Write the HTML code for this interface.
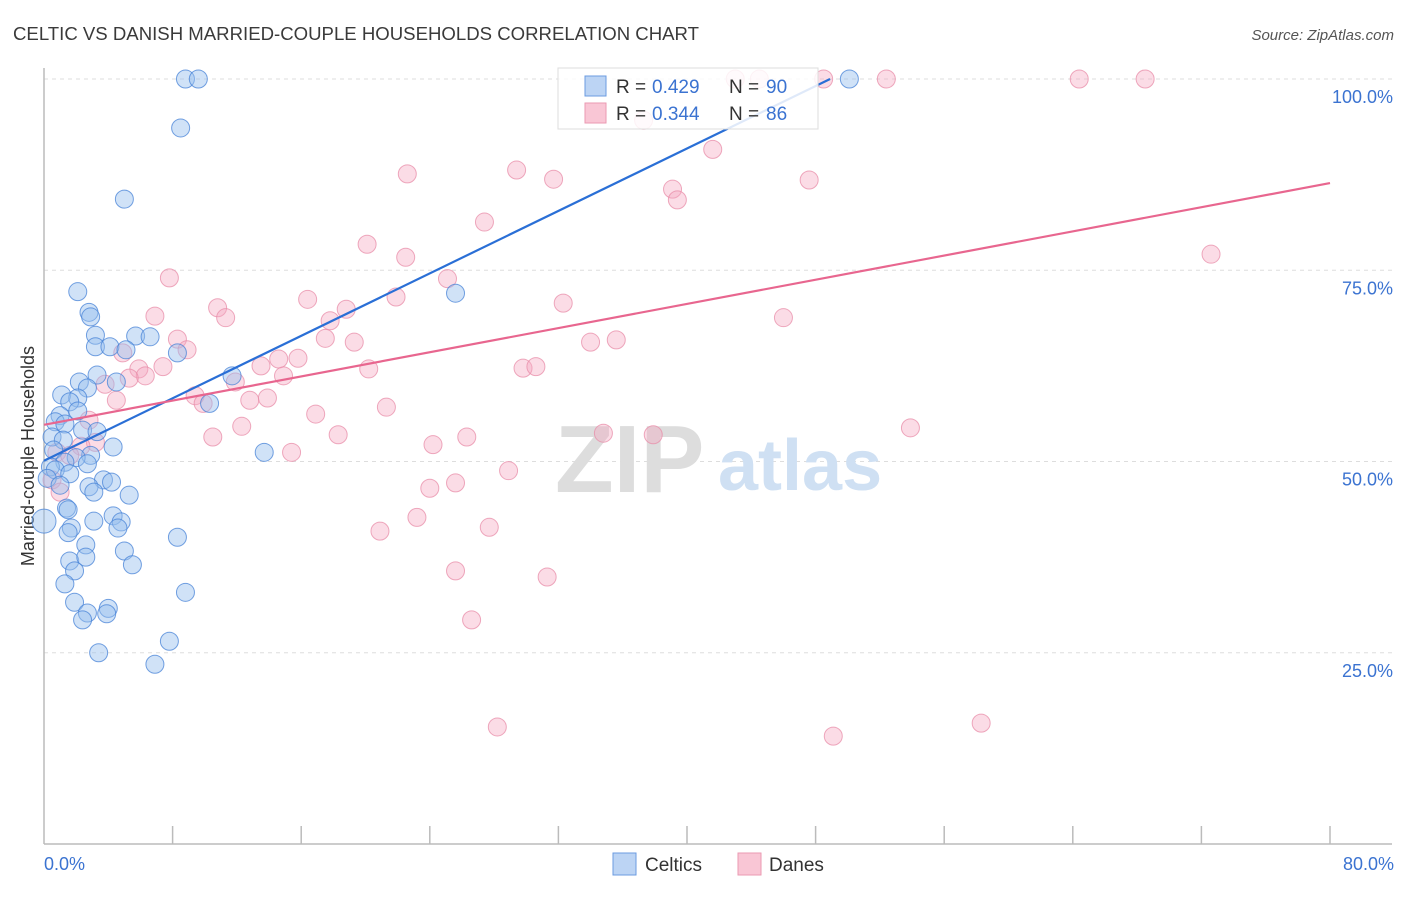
<!DOCTYPE html>
<html><head><meta charset="utf-8"><style>
body{margin:0;background:#fff;font-family:"Liberation Sans",sans-serif;}
svg text{font-family:"Liberation Sans",sans-serif;}
</style></head><body>
<svg id="chart" width="1406" height="892" viewBox="0 0 1406 892" xmlns="http://www.w3.org/2000/svg">
<text x="13" y="40" font-size="18.6" fill="#3a3a3a">CELTIC VS DANISH MARRIED-COUPLE HOUSEHOLDS CORRELATION CHART</text>
<text x="1394" y="40" font-size="15" fill="#555" font-style="italic" text-anchor="end">Source: ZipAtlas.com</text>
<g id="grid"></g>
<g>
<text x="555" y="492" font-size="96" fill="#ddd" font-family="Liberation Serif" font-weight="bold">ZIP</text>
<text x="718" y="490" font-size="72" fill="#cfe0f3" font-weight="bold">atlas</text>
</g>
<line x1="44" y1="68" x2="44" y2="844" stroke="#bbb" stroke-width="1.5"/>
<line x1="44" y1="844" x2="1392" y2="844" stroke="#bbb" stroke-width="1.5"/>
<g id="xticks"></g>
<g id="ylabels"></g>
<text transform="translate(34,456) rotate(-90)" font-size="18" fill="#333" text-anchor="middle">Married-couple Households</text>
<text x="44" y="870" font-size="18" fill="#3b73d1">0.0%</text>
<text x="1394" y="870" font-size="18" fill="#3b73d1" text-anchor="end">80.0%</text>
<g id="pinkpts"></g>
<g id="bluepts"></g>
<g id="trends"></g>
<g>
<rect x="558" y="68" width="260" height="61" fill="rgba(255,255,255,0.85)" stroke="#ddd"/>
<rect x="585" y="76" width="21" height="20" fill="#bcd4f4" stroke="#6b9be0"/>
<text x="616" y="93" font-size="19" fill="#333">R =</text>
<text x="652" y="93" font-size="19" fill="#3b73d1">0.429</text>
<text x="729" y="93" font-size="19" fill="#333">N =</text>
<text x="766" y="93" font-size="19" fill="#3b73d1">90</text>
<rect x="585" y="103" width="21" height="20" fill="#f9c6d5" stroke="#eb9ab2"/>
<text x="616" y="120" font-size="19" fill="#333">R =</text>
<text x="652" y="120" font-size="19" fill="#3b73d1">0.344</text>
<text x="729" y="120" font-size="19" fill="#333">N =</text>
<text x="766" y="120" font-size="19" fill="#3b73d1">86</text>
</g>
<g>
<rect x="613" y="853" width="23" height="22" fill="#bcd4f4" stroke="#6b9be0"/>
<text x="645" y="871" font-size="19" fill="#333">Celtics</text></g>
<g>
<rect x="738" y="853" width="23" height="22" fill="#f9c6d5" stroke="#eb9ab2"/>
<text x="769" y="871" font-size="19" fill="#333">Danes</text></g>
</svg>
<script>
const celticsX=[8.8,9.6,50.1,8.5,5.0,2.1,25.6,2.8,2.9,3.2,5.7,6.6,3.2,4.1,5.1,8.3,11.7,3.3,2.2,4.5,2.7,1.1,2.1,1.6,10.3,2.1,1.0,0.7,1.3,2.4,3.3,0.5,1.2,4.3,0.6,13.7,2.9,2.0,1.3,2.7,0.4,0.7,1.6,0.2,3.7,4.2,1.0,2.8,3.1,5.3,1.4,1.5,4.3,4.8,3.1,0,1.7,4.6,1.5,8.3,2.6,5.0,1.6,2.6,5.5,1.9,1.3,8.8,1.9,4.0,2.7,3.9,2.4,3.4,7.8,6.9];
const celticsY=[100,100,100,93.6,84.3,72.2,72.0,69.5,68.9,66.5,66.4,66.3,65.0,65.0,64.6,64.2,61.2,61.3,60.4,60.4,59.6,58.7,58.3,57.8,57.6,56.6,56.0,55.2,54.9,54.1,53.9,53.2,52.8,51.9,51.5,51.2,50.8,50.5,49.9,49.7,49.3,48.9,48.4,47.8,47.6,47.3,46.9,46.7,46.0,45.6,43.9,43.7,42.9,42.1,42.2,42.2,41.3,41.3,40.7,40.1,39.1,38.3,37.0,37.5,36.5,35.7,34.0,32.9,31.6,30.8,30.2,30.1,29.3,25.0,26.5,23.5];
const danesX=[43,44.5,48.5,52.4,64.4,68.5,37.3,41.6,22.6,29.4,31.7,47.6,39.1,39.4,27.4,20.1,22.5,72.6,7.8,25.1,21.9,16.4,32.3,10.8,18.8,11.3,46.0,6.9,17.8,8.3,17.5,19.3,34.0,35.6,8.9,4.9,15.8,14.6,13.5,29.8,30.6,20.2,5.9,7.4,6.3,14.9,5.3,11.9,3.8,9.4,4.5,9.9,12.8,13.9,21.3,16.9,2.8,12.3,53.9,34.8,37.9,10.5,18.3,26.3,24.2,3.2,2.3,15.4,0.8,1.6,28.9,0.5,24.0,25.6,1.0,23.2,27.7,20.9,25.6,31.3,26.6,28.2,49.1,58.3];
const danesY=[100,100,100,100,100,100,94.6,90.8,87.6,88.1,86.9,86.8,85.6,84.2,81.3,78.4,76.7,77.1,74.0,73.9,71.5,71.2,70.7,70.1,69.9,68.8,68.8,69.0,68.4,66.0,66.1,65.6,65.6,65.9,64.6,64.2,63.5,63.4,62.5,62.2,62.4,62.1,62.1,62.4,61.2,61.2,60.9,60.4,60.1,58.6,58.0,57.6,58.0,58.3,57.1,56.2,55.4,54.6,54.4,53.7,53.5,53.2,53.5,53.2,52.2,52.5,52.0,51.2,51.2,50.8,48.8,47.6,46.5,47.2,46.0,42.7,41.4,40.9,35.7,34.9,29.3,15.3,14.1,15.8];
const celticsTrend=[0,50.1,48.9,100];
const danesTrend=[0,54.8,80,86.4];
const yTicks=[25,50,75,100];
const xTicks=[8,16,24,32,40,48,56,64,72,80];
const NS="http://www.w3.org/2000/svg";
const sx=v=>44+v*16.075, sy=v=>844-v*7.65;
function mk(p,t,a){const e=document.createElementNS(NS,t);for(const k in a)e.setAttribute(k,a[k]);document.getElementById(p).appendChild(e);return e;}
yTicks.forEach(t=>{
 const l=mk('grid','line',{x1:44,x2:1392,y1:sy(t),y2:sy(t),stroke:'#ddd','stroke-dasharray':'4,4'});
 
 
 const tx=mk('ylabels','text',{x:1393,y:sy(t)+24,'font-size':18,fill:'#3b73d1','text-anchor':'end'});
 tx.textContent=t.toFixed(1)+'%';
 
 
});
xTicks.forEach(i=>{
 const l=mk('xticks','line',{x1:sx(i),x2:sx(i),y1:826,y2:844,stroke:'#bbb','stroke-width':1.5});
 
 
});
danesX.forEach((x,i)=>{
 const c=mk('pinkpts','circle',{cx:sx(x),cy:sy(danesY[i]),r:9,fill:'rgba(246,168,192,0.4)',stroke:'rgba(232,140,168,0.75)','stroke-width':1});
 
 
});
celticsX.forEach((x,i)=>{
 const c=mk('bluepts','circle',{cx:sx(x),cy:sy(celticsY[i]),r:x===0?12:9,fill:'rgba(150,190,238,0.45)',stroke:'rgba(70,130,215,0.75)','stroke-width':1});
 
 
});
const bl=mk('trends','line',{x1:sx(celticsTrend[0]),y1:sy(celticsTrend[1]),x2:sx(celticsTrend[2]),y2:sy(celticsTrend[3]),stroke:'#2a6fd6','stroke-width':2.2});


const pl=mk('trends','line',{x1:sx(danesTrend[0]),y1:sy(danesTrend[1]),x2:sx(danesTrend[2]),y2:sy(danesTrend[3]),stroke:'#e8668f','stroke-width':2.2});


</script>
</body></html>
